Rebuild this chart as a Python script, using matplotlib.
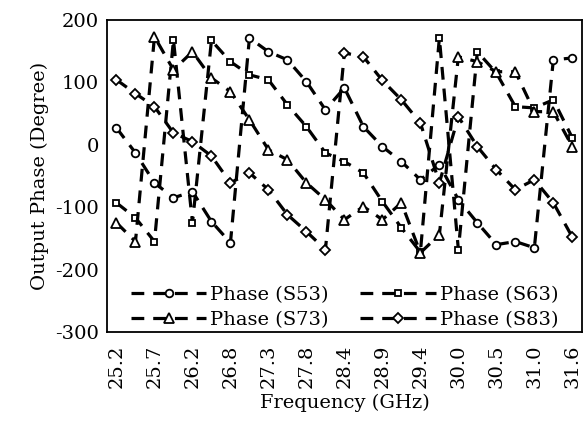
import matplotlib
matplotlib.use("Agg")
import matplotlib.pyplot as plt

# frequency labels (every second point is labelled on the category axis)
freq_labels = ["25.2", "25.7", "26.2", "26.8", "27.3", "27.8", "28.4",
               "28.9", "29.4", "30.0", "30.5", "31.0", "31.6"]

# output phase in degrees, 25 frequency points
s53 = [27, -13, -61, -85, -75, -123, -157, 171, 149, 136, 101, 56, 91,
       29, -3, -27, -56, -32, -88, -125, -160, -155, -165, 136, 139]
s63 = [-93, -117, -155, 168, -125, 167, 133, 112, 104, 64, 29, -13, -27,
       -45, -91, -133, -172, 171, -168, 149, 115, 61, 59, 72, 11]
s73 = [-125, -155, 173, 120, 149, 107, 85, 40, -8, -24, -61, -88, -120,
       -99, -120, -93, -173, -144, 141, 133, 117, 117, 53, 53, -3]
s83 = [104, 82, 61, 19, 5, -18, -61, -45, -72, -112, -139, -168, 147,
       141, 103, 72, 35, -61, 45, -3, -40, -72, -56, -93, -148]

plt.rcParams['font.family'] = ['DejaVu Serif']
plt.rcParams['axes.unicode_minus'] = False

fig = plt.figure(figsize=(5.83, 4.23), dpi=100)
ax = fig.add_axes([0.1835, 0.215, 0.8145, 0.738])

x = list(range(len(s53)))
style = dict(color='black', lw=2.3, dashes=(4, 2.8), mfc='white', mec='black', mew=1.3)

ax.plot(x, s53, marker='o', ms=5.5, label='Phase (S53)', **style)
ax.plot(x, s63, marker='s', ms=5, label='Phase (S63)', **style)
ax.plot(x, s73, marker='^', ms=7, label='Phase (S73)', **style)
ax.plot(x, s83, marker='D', ms=5, label='Phase (S83)', **style)

ax.set_xlim(-0.5, len(x) - 0.5)
ax.set_ylim(-300, 200)
ax.set_yticks([-300, -200, -100, 0, 100, 200])
ax.set_xticks(range(0, len(x), 2))
ax.set_xticklabels(freq_labels, rotation=90)
ax.tick_params(axis='y', length=0, labelsize=14, pad=6)
ax.tick_params(axis='x', length=0, labelsize=14, pad=9)

for sp in ax.spines.values():
    sp.set_linewidth(1.3)

ax.set_xlabel('Frequency (GHz)', fontsize=14, labelpad=4)
ax.set_ylabel('Output Phase (Degree)', fontsize=14, labelpad=4)

h, l = ax.get_legend_handles_labels()
order = [0, 2, 1, 3]
ax.legend([h[i] for i in order], [l[i] for i in order], ncol=2, loc='lower center',
          bbox_to_anchor=(0.5, -0.045), frameon=False, fontsize=14,
          handlelength=3.9, handletextpad=0.2, columnspacing=1.6,
          labelspacing=0.35, numpoints=1)

fig.savefig('out.png', dpi=100)
